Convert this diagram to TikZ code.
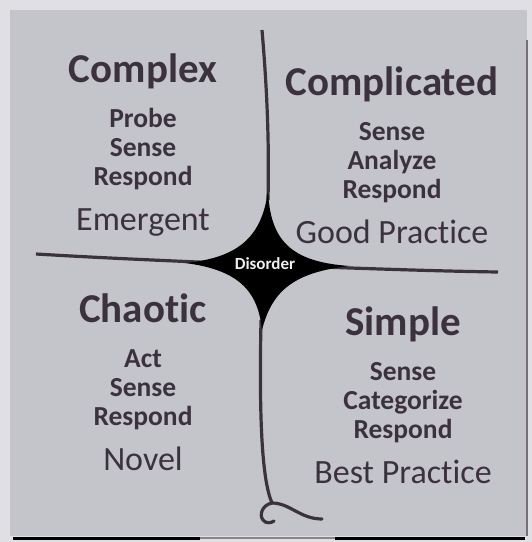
\documentclass[tikz,border=0pt]{standalone}
\usepackage{fontspec}
\setmainfont[Ligatures=NoCommon]{Carlito}
\usetikzlibrary{positioning}
\definecolor{ink}{RGB}{60,50,62}
\definecolor{paper}{RGB}{196,197,203}
\definecolor{margin}{RGB}{224,224,228}
\definecolor{stroke}{RGB}{58,52,56}
\tikzset{line/.style={draw=stroke, line width=3.2pt}}

\begin{document}
\begin{tikzpicture}[x=1pt, y=-1pt]
\tikzstyle{title} = [text=ink, font=\fontsize{41}{41}\selectfont\bfseries, inner sep=0pt, text height=28pt, text depth=9pt, anchor=base]
\tikzstyle{verb} = [text=ink, font=\fontsize{27.5}{27.5}\selectfont\bfseries, inner sep=0pt, text height=19pt, text depth=6pt]
\tikzstyle{practice} = [text=ink, font=\fontsize{34}{34}\selectfont, inner sep=0pt, text height=24pt, text depth=8pt]

\useasboundingbox (0,0) rectangle (532,542);
\fill[margin] (0,0) rectangle (532,542);
\fill[paper] (10,10) rectangle (527,536);
\draw[stroke!70, line width=1.5pt] (527,40) -- (527,536);
\draw[stroke, line width=3pt] (13,538) -- (200,538);
\draw[stroke!60, line width=2pt] (200,538) -- (335,538);
\draw[stroke, line width=3pt] (335,538) -- (525,538);

\coordinate (mid) at (266,265);

% the axes
\path [line] (36,254) .. controls (120,259) and (200,262) .. (mid);
\path [line] (mid) .. controls (350,268) and (430,271) .. (498,272);
\path [line] (262,30) .. controls (268,100) and (269,150) .. (268,200);
\path [line] (261,320) .. controls (259,420) and (262,480) .. (272,503);
\path [line, line cap=round] (272,503) .. controls (262,505) and (259,515) .. (263,520) .. controls (266,524) and (271,523) .. (274,521);
\path [line, line cap=round] (272,503) .. controls (290,503) and (300,519) .. (322,519);

% disorder in the middle
\fill[stroke] (268,190) .. controls (270,240) and (290,262) .. (350,266)
  .. controls (295,272) and (272,290) .. (262,330)
  .. controls (258,292) and (240,270) .. (185,263)
  .. controls (235,258) and (262,240) .. (268,190) -- cycle;
\node [text=white!92!stroke, font=\fontsize{17}{17}\selectfont\bfseries] (disorder) at (265,264) {Disorder};

\node [title] (complex) at (143,82) {Complex};
\node [verb, below=17pt of complex] (complex1) {Probe};
\node [verb, below=3.5pt of complex1] (complex2) {Sense};
\node [verb, below=3.5pt of complex2] (complex3) {Respond};
\node [practice, below=15pt of complex3] (complex_practice) {Emergent};

\node [title] (complicated) at (392,95) {Complicated};
\node [verb, below=17pt of complicated] (complicated1) {Sense};
\node [verb, below=3.5pt of complicated1] (complicated2) {Analyze};
\node [verb, below=3.5pt of complicated2] (complicated3) {Respond};
\node [practice, below=15pt of complicated3] (complicated_practice) {Good Practice};

\node [title] (chaotic) at (143,322) {Chaotic};
\node [verb, below=17pt of chaotic] (chaotic1) {Act};
\node [verb, below=3.5pt of chaotic1] (chaotic2) {Sense};
\node [verb, below=3.5pt of chaotic2] (chaotic3) {Respond};
\node [practice, below=15pt of chaotic3] (chaotic_practice) {Novel};

\node [title] (simple) at (403,335) {Simple};
\node [verb, below=17pt of simple] (simple1) {Sense};
\node [verb, below=3.5pt of simple1] (simple2) {Categorize};
\node [verb, below=3.5pt of simple2] (simple3) {Respond};
\node [practice, below=15pt of simple3] (simple_practice) {Best Practice};

\end{tikzpicture}
\end{document}
